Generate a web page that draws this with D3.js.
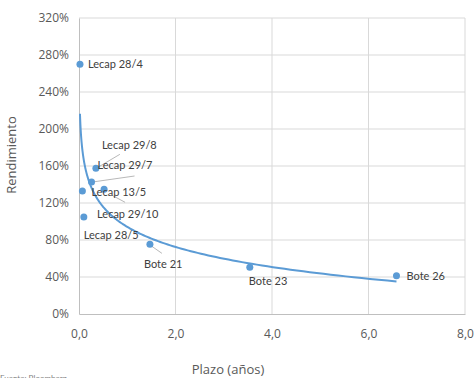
<!DOCTYPE html>
<html><head><meta charset="utf-8">
<script src="https://cdn.jsdelivr.net/npm/d3@7"></script>
<style>body{margin:0;background:#fff;}svg{display:block;font-family:Lato,"Open Sans",sans-serif;}</style>
</head><body>
<svg id="c" width="475" height="378"></svg>
<script>
const names = ["Lecap 28/4","Lecap 13/5","Lecap 28/5","Lecap 29/7","Lecap 29/8","Lecap 29/10","Bote 21","Bote 23","Bote 26"];
const plazo = [0.02, 0.07, 0.10, 0.26, 0.35, 0.52, 1.47, 3.54, 6.58];
const rendimiento = [270, 133, 105, 142.7, 157.5, 134.8, 75.3, 50.5, 41.4];
const xTicks = [0, 2, 4, 6, 8];
const yTicks = [0, 40, 80, 120, 160, 200, 240, 280, 320];
// label offsets (px) relative to each point
const labelDx = [8, 9, 0, 6, 6, -7, -6, -1, 10];
const labelDy = [0, 1, 18, -17, -23, 25, 20, 14, 0];
// leader lines: [pointIndex, x1, y1, x2, y2] offsets
const leaders = [[4,2,-1,24,-14],[3,1,0,43,-6],[5,8,6,21,13],[6,2,2,12,9]];

const svg = d3.select("#c");
const x = d3.scaleLinear().domain([0,8]).range([79,465]);
const y = d3.scaleLinear().domain([0,320]).range([314,18]);
const blue = "#5b9bd5";

// gridlines
svg.append("g").selectAll("line").data(yTicks.slice(1)).join("line")
  .attr("x1",x(0)).attr("x2",x(8)).attr("y1",d=>y(d)).attr("y2",d=>y(d))
  .attr("stroke","#d9d9d9").attr("stroke-width",1);
svg.append("g").selectAll("line").data(xTicks.slice(1)).join("line")
  .attr("y1",y(0)).attr("y2",y(320)).attr("x1",d=>x(d)).attr("x2",d=>x(d))
  .attr("stroke","#d9d9d9").attr("stroke-width",1);

// axes
const xAxis = svg.append("g").attr("transform",`translate(0,${y(0)})`)
  .call(d3.axisBottom(x).tickValues(xTicks).tickSize(0).tickPadding(15).tickFormat(d=>d3.format(".1f")(d).replace(".",",")));
const yAxis = svg.append("g").attr("transform",`translate(${x(0)},0)`)
  .call(d3.axisLeft(y).tickValues(yTicks).tickSize(0).tickPadding(10).tickFormat(d=>d+"%"));
[xAxis,yAxis].forEach(a=>{
  a.select(".domain").attr("stroke","#bfbfbf");
  a.selectAll("text").attr("fill","#595959").style("font-family","'Open Sans',sans-serif").style("font-size","12px");
});

// trendline: logarithmic least squares fit of the data
const lx = plazo.map(Math.log);
const mx = d3.mean(lx), my = d3.mean(rendimiento);
const b = d3.sum(lx.map((v,i)=>(v-mx)*(rendimiento[i]-my))) / d3.sum(lx.map(v=>(v-mx)*(v-mx)));
const a = my - b*mx;
const xs = d3.range(0,201).map(i=>{const lo=Math.log(d3.min(plazo)),hi=Math.log(d3.max(plazo));return Math.exp(lo+(hi-lo)*i/200);});
svg.append("path").datum(xs)
  .attr("d", d3.line().x(d=>x(d)).y(d=>y(a+b*Math.log(d))))
  .attr("fill","none").attr("stroke",blue).attr("stroke-width",2);

// leader lines
svg.append("g").selectAll("line").data(leaders).join("line")
  .attr("x1",d=>x(plazo[d[0]])+d[1]).attr("y1",d=>y(rendimiento[d[0]])+d[2])
  .attr("x2",d=>x(plazo[d[0]])+d[3]).attr("y2",d=>y(rendimiento[d[0]])+d[4])
  .attr("stroke","#a6a6a6").attr("stroke-width",0.8);

// points
svg.append("g").selectAll("circle").data(names).join("circle")
  .attr("cx",(d,i)=>x(plazo[i])).attr("cy",(d,i)=>y(rendimiento[i])).attr("r",3.5)
  .attr("fill",blue);

// labels
svg.append("g").selectAll("text").data(names).join("text")
  .attr("x",(d,i)=>x(plazo[i])+labelDx[i]).attr("y",(d,i)=>y(rendimiento[i])+labelDy[i])
  .attr("dy","0.35em").attr("fill","#404040").style("font-size","11px").text(d=>d);

// axis titles
svg.append("text").attr("transform","translate(16,155) rotate(-90)").attr("text-anchor","middle")
  .attr("fill","#595959").style("font-family","'Open Sans',sans-serif").style("font-size","13px").text("Rendimiento");
svg.append("text").attr("x",228).attr("y",374).attr("text-anchor","middle")
  .attr("fill","#595959").style("font-family","'Open Sans',sans-serif").style("font-size","13px").text("Plazo (años)");
svg.append("text").attr("x",0).attr("y",381).attr("fill","#7f7f7f").style("font-size","8px").text("Fuente: Bloomberg");
</script>
</body></html>
